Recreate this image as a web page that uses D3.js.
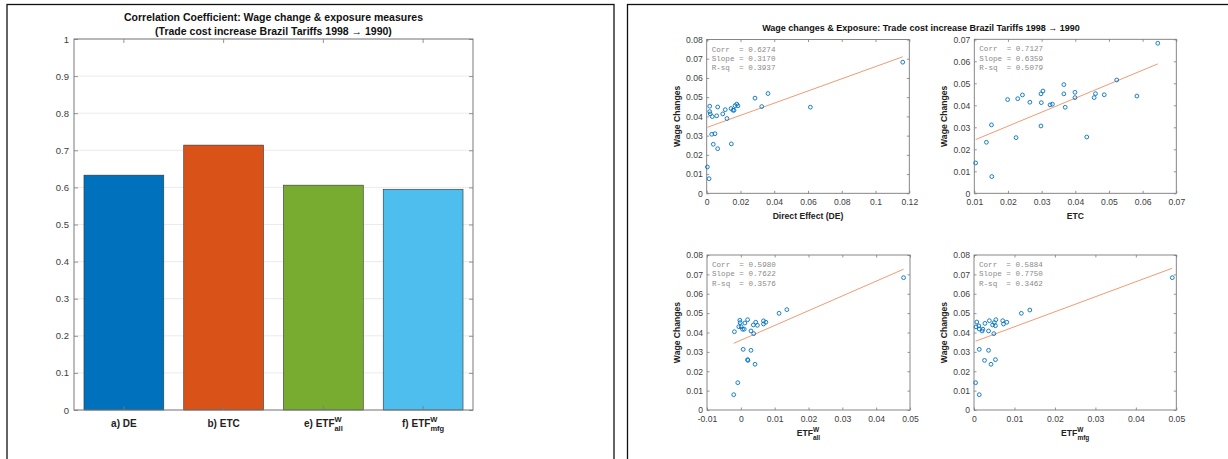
<!DOCTYPE html>
<html><head><meta charset="utf-8">
<script src="https://cdn.jsdelivr.net/npm/d3@7"></script>
<style>
body{margin:0;background:#fff;}
svg{display:block;font-family:"Liberation Sans",Arial,Helvetica,sans-serif;}
</style></head>
<body><svg id="c" width="1228" height="459"></svg>
<script>
// ---------- DATA ----------
const barLabels = ["a) DE", "b) ETC", "e) ETF", "f) ETF"];
const barSup = ["", "", "W", "W"];
const barSub = ["", "", "all", "mfg"];
const barValues = [0.633, 0.714, 0.606, 0.595];
const barColors = ["#0072BD", "#D95319", "#77AC30", "#4DBEEE"];
const barTicks = [0, 0.1, 0.2, 0.3, 0.4, 0.5, 0.6, 0.7, 0.8, 0.9, 1];

const deX = [0.0004,0.0014,0.0018,0.0018,0.0021,0.0033,0.0059,0.0065,0.0030,0.0049,0.0039,0.0065,0.0095,0.0110,0.0120,0.0144,0.0146,0.0156,0.0162,0.0168,0.0178,0.0185,0.0286,0.0326,0.0363,0.0614,0.1161];
const deY = [0.0137,0.0076,0.0453,0.0425,0.0413,0.0399,0.0403,0.0449,0.0307,0.0310,0.0255,0.0232,0.0413,0.0435,0.0389,0.0441,0.0257,0.0432,0.0432,0.0456,0.0464,0.0455,0.0495,0.0451,0.0519,0.0448,0.0682];

const etcX = [0.0104,0.0152,0.0136,0.0151,0.0199,0.0224,0.0229,0.0243,0.0265,0.0298,0.0304,0.0299,0.0298,0.0325,0.0332,0.0366,0.0366,0.0370,0.0399,0.0399,0.0434,0.0456,0.0460,0.0486,0.0523,0.0583,0.0645];
const etcY = [0.0138,0.0076,0.0232,0.0311,0.0426,0.0253,0.0430,0.0447,0.0414,0.0452,0.0465,0.0412,0.0306,0.0402,0.0405,0.0494,0.0452,0.0391,0.0459,0.0435,0.0256,0.0435,0.0453,0.0448,0.0515,0.0442,0.0682];

const allX = [-0.0021,-0.0009,-0.0019,0.0007,0.0030,0.0020,0.0021,0.0042,-0.0003,-0.0002,-0.0006,0.0001,0.0005,0.0010,0.0012,0.0020,0.0030,0.0037,0.0038,0.0044,0.0049,0.0067,0.0067,0.0074,0.0113,0.0136,0.0481];
const allY = [0.0079,0.0141,0.0404,0.0313,0.0308,0.0260,0.0256,0.0236,0.0463,0.0451,0.0430,0.0430,0.0417,0.0417,0.0449,0.0466,0.0408,0.0439,0.0394,0.0453,0.0437,0.0460,0.0444,0.0453,0.0499,0.0518,0.0683];

const mfgX = [0.0004,0.0013,0.0013,0.0036,0.0026,0.0042,0.0053,0.0005,0.0007,0.0012,0.0013,0.0020,0.0022,0.0027,0.0036,0.0038,0.0046,0.0049,0.0050,0.0053,0.0054,0.0071,0.0073,0.0081,0.0117,0.0138,0.0490];
const mfgY = [0.0141,0.0079,0.0313,0.0308,0.0256,0.0236,0.0260,0.0429,0.0454,0.0434,0.0418,0.0408,0.0417,0.0447,0.0408,0.0461,0.0439,0.0394,0.0451,0.0435,0.0466,0.0461,0.0444,0.0453,0.0499,0.0516,0.0683];

const statCorr  = ["0.6274", "0.7127", "0.5980", "0.5884"];
const statSlope = ["0.3170", "0.6359", "0.7622", "0.7750"];
const statRsq   = ["0.3937", "0.5079", "0.3576", "0.3462"];
const fitSlope = [0.3170, 0.6359, 0.7622, 0.7750];
const fitIntercept = [0.0342, 0.0178, 0.0360, 0.0352];

const xTicksDE  = [0, 0.02, 0.04, 0.06, 0.08, 0.1, 0.12];
const xTicksETC = [0.01, 0.02, 0.03, 0.04, 0.05, 0.06, 0.07];
const xTicksAll = [-0.01, 0, 0.01, 0.02, 0.03, 0.04, 0.05];
const xTicksMfg = [0, 0.01, 0.02, 0.03, 0.04, 0.05];
const yTicks8 = [0, 0.01, 0.02, 0.03, 0.04, 0.05, 0.06, 0.07, 0.08];
const yTicks7 = [0, 0.01, 0.02, 0.03, 0.04, 0.05, 0.06, 0.07];

// ---------- DRAW ----------
const svg = d3.select("#c");
const fmt = d => String(+d.toFixed(4));
const AX = "#7a7a7a", TXT = "#404040";

// panel frames
svg.append("rect").attr("x",7).attr("y",4.5).attr("width",607).attr("height",470)
  .attr("fill","none").attr("stroke","#111").attr("stroke-width",1.3);
svg.append("rect").attr("x",627.5).attr("y",4.5).attr("width",620).attr("height",470)
  .attr("fill","none").attr("stroke","#111").attr("stroke-width",1.3);

// ----- bar chart -----
(function(){
  const L=74,R=473,T=39,B=410;
  const x = d3.scaleBand().domain(d3.range(barValues.length)).range([L,R]).paddingInner(0.2).paddingOuter(0.1);
  const y = d3.scaleLinear().domain([0,1]).range([B,T]);
  const g = svg.append("g");
  g.selectAll("line.grid").data(barTicks).join("line")
    .attr("x1",L).attr("x2",R).attr("y1",d=>y(d)).attr("y2",d=>y(d))
    .attr("stroke","#ebebeb").attr("stroke-width",1);
  g.selectAll("rect.bar").data(barValues).join("rect")
    .attr("x",(d,i)=>x(i)).attr("width",x.bandwidth())
    .attr("y",d=>y(d)).attr("height",d=>B-y(d))
    .attr("fill",(d,i)=>barColors[i]).attr("stroke","#333").attr("stroke-width",0.6);
  // axes
  const yl = g.append("g").attr("transform",`translate(${L},0)`)
    .call(d3.axisLeft(y).tickValues(barTicks).tickFormat(fmt).tickSize(-4).tickPadding(5));
  const yr = g.append("g").attr("transform",`translate(${R},0)`)
    .call(d3.axisRight(y).tickValues(barTicks).tickFormat("").tickSize(-4));
  const centers = barValues.map((d,i)=>x(i)+x.bandwidth()/2);
  [B,T].forEach(yy=>{
    g.selectAll(null).data(centers).join("line")
      .attr("x1",d=>d).attr("x2",d=>d).attr("y1",yy).attr("y2",yy===B?yy-4:yy+4)
      .attr("stroke",AX).attr("stroke-width",0.8);
  });
  [yl,yr].forEach(a=>{a.select(".domain").remove(); a.selectAll("line").attr("stroke",AX).attr("stroke-width",0.8);
    a.selectAll("text").attr("fill",TXT).style("font-size","9.5px").style("font-family","Liberation Sans, Arial");});
  g.append("rect").attr("x",L).attr("y",T).attr("width",R-L).attr("height",B-T)
    .attr("fill","none").attr("stroke",AX).attr("stroke-width",1);
  // x labels
  barLabels.forEach((lab,i)=>{
    const t = g.append("text").attr("x",centers[i]).attr("y",427).attr("text-anchor","middle")
      .attr("font-weight","bold").attr("font-size","10px").attr("fill","#222");
    t.append("tspan").text(lab);
    if(barSup[i]){
      t.append("tspan").attr("font-size","7.5px").attr("dy",-5).text(barSup[i]);
      t.append("tspan").attr("font-size","7.5px").attr("dy",9).attr("dx",-7).text(barSub[i]);
    }
  });
  const tt = g.append("text").attr("x",(L+R)/2).attr("text-anchor","middle")
    .attr("font-weight","bold").attr("font-size","10.5px").attr("fill","#111");
  tt.append("tspan").attr("x",(L+R)/2).attr("y",21).text("Correlation Coefficient: Wage change & exposure measures");
  tt.append("tspan").attr("x",(L+R)/2).attr("y",35).text("(Trade cost increase Brazil Tariffs 1998 \u2192 1990)");
})();

// ----- scatter panels -----
const panels = [
  {xs:deX, ys:deY, box:[706.7,909.3,39.5,193.3], xd:[0,0.12], xt:xTicksDE, yd:[0,0.08], yt:yTicks8, lab:"Direct Effect (DE)", sup:"", sub:"", labY:219},
  {xs:etcX, ys:etcY, box:[974.3,1176.3,39.3,193.3], xd:[0.01,0.07], xt:xTicksETC, yd:[0,0.07], yt:yTicks7, lab:"ETC", sup:"", sub:"", labY:219},
  {xs:allX, ys:allY, box:[707,910,255,410], xd:[-0.01,0.05], xt:xTicksAll, yd:[0,0.08], yt:yTicks8, lab:"ETF", sup:"W", sub:"all", labY:436},
  {xs:mfgX, ys:mfgY, box:[974,1176.3,255,410], xd:[0,0.05], xt:xTicksMfg, yd:[0,0.08], yt:yTicks8, lab:"ETF", sup:"W", sub:"mfg", labY:436}
];
panels.forEach((p,k)=>{
  const [L,R,T,B] = p.box;
  const x = d3.scaleLinear().domain(p.xd).range([L,R]);
  const y = d3.scaleLinear().domain(p.yd).range([B,T]);
  const g = svg.append("g");
  const axes = [
    g.append("g").attr("transform",`translate(${L},0)`).call(d3.axisLeft(y).tickValues(p.yt).tickFormat(fmt).tickSize(-2.5).tickPadding(4)),
    g.append("g").attr("transform",`translate(${R},0)`).call(d3.axisRight(y).tickValues(p.yt).tickFormat("").tickSize(-2.5)),
    g.append("g").attr("transform",`translate(0,${B})`).call(d3.axisBottom(x).tickValues(p.xt).tickFormat(fmt).tickSize(-2.5).tickPadding(6)),
    g.append("g").attr("transform",`translate(0,${T})`).call(d3.axisTop(x).tickValues(p.xt).tickFormat("").tickSize(-2.5))
  ];
  axes.forEach(a=>{a.select(".domain").remove(); a.selectAll("line").attr("stroke",AX).attr("stroke-width",0.8);
    a.selectAll("text").attr("fill",TXT).style("font-size","8.6px").style("font-family","Liberation Sans, Arial");});
  g.append("rect").attr("x",L).attr("y",T).attr("width",R-L).attr("height",B-T)
    .attr("fill","none").attr("stroke",AX).attr("stroke-width",0.9);
  // fit line
  const x0 = d3.min(p.xs), x1 = d3.max(p.xs);
  g.append("line").attr("x1",x(x0)).attr("x2",x(x1))
    .attr("y1",y(fitIntercept[k]+fitSlope[k]*x0)).attr("y2",y(fitIntercept[k]+fitSlope[k]*x1))
    .attr("stroke","#F29A74").attr("stroke-width",1);
  // points
  g.selectAll("circle").data(p.xs).join("circle")
    .attr("cx",d=>x(d)).attr("cy",(d,i)=>y(p.ys[i])).attr("r",1.9)
    .attr("fill","none").attr("stroke","#0072BD").attr("stroke-width",0.9);
  // stats
  const st = [`Corr  = ${statCorr[k]}`, `Slope = ${statSlope[k]}`, `R-sq  = ${statRsq[k]}`];
  g.selectAll("text.st").data(st).join("text")
    .attr("x",L+5).attr("y",(d,i)=>T+12+i*9.3).attr("xml:space","preserve")
    .style("white-space","pre").attr("font-family","Liberation Mono, Courier New, monospace")
    .attr("font-size","7.6px").attr("fill","#8a8a8a").text(d=>d);
  // labels
  const xl = g.append("text").attr("x",(L+R)/2).attr("y",p.labY).attr("text-anchor","middle")
    .attr("font-weight","bold").attr("font-size","8.6px").attr("fill","#222");
  xl.append("tspan").text(p.lab);
  if(p.sup){
    xl.append("tspan").attr("font-size","6.5px").attr("dy",-4.5).text(p.sup);
    xl.append("tspan").attr("font-size","6.5px").attr("dy",8).attr("dx",-6).text(p.sub);
  }
  g.append("text").attr("transform",`translate(${L-27},${(T+B)/2}) rotate(-90)`)
    .attr("text-anchor","middle").attr("font-weight","bold").attr("font-size","8.6px").attr("fill","#222")
    .text("Wage Changes");
});
svg.append("text").attr("x",921).attr("y",31).attr("text-anchor","middle")
  .attr("font-weight","bold").attr("font-size","9px").attr("fill","#111")
  .text("Wage changes & Exposure: Trade cost increase Brazil Tariffs 1998 \u2192 1990");
</script></body></html>
